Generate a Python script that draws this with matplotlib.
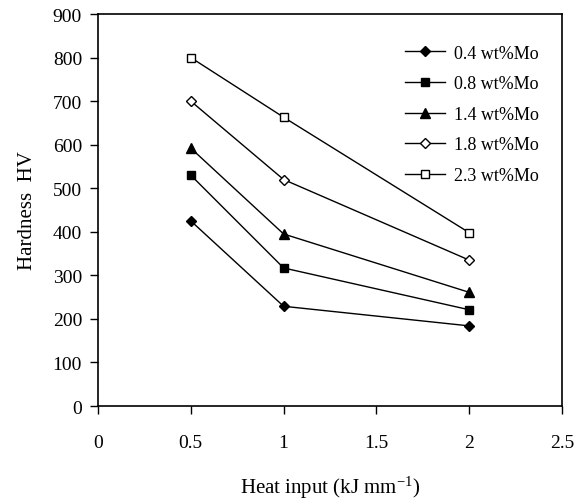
import matplotlib
matplotlib.use('Agg')
import matplotlib.pyplot as plt

plt.rcParams['font.family'] = 'Liberation Serif'
plt.rcParams['mathtext.default'] = 'regular'

heat_input = [0.5, 1, 2]
mo_04 = [425, 229, 184]
mo_08 = [530, 317, 221]
mo_14 = [592, 395, 261]
mo_18 = [700, 520, 335]
mo_23 = [800, 663, 398]

series = [
    ('0.4 wt%Mo', mo_04, 'D', 'black'),
    ('0.8 wt%Mo', mo_08, 's', 'black'),
    ('1.4 wt%Mo', mo_14, '^', 'black'),
    ('1.8 wt%Mo', mo_18, 'D', 'white'),
    ('2.3 wt%Mo', mo_23, 's', 'white'),
]

fig = plt.figure(figsize=(5.85, 5.02), dpi=100)
ax = fig.add_axes([0.1675, 0.1892, 0.7932, 0.7809])

for label, vals, marker, face in series:
    ms = 5 if marker == 'D' else 6
    if marker == '^':
        ms = 7
    ax.plot(heat_input, vals, color='black', lw=1, marker=marker, ms=ms,
            markerfacecolor=face, markeredgecolor='black', markeredgewidth=1,
            label=label)

ax.set_xlim(0, 2.5)
ax.set_ylim(0, 900)
ax.set_xticks([0, 0.5, 1, 1.5, 2, 2.5])
ax.set_xticklabels(['0', '0.5', '1', '1.5', '2', '2.5'])
ax.set_yticks(range(0, 901, 100))
ax.tick_params(labelsize=14, length=5.5, width=1, direction='out')
ax.tick_params(axis='y', pad=6)
ax.tick_params(axis='x', pad=15)
for s in ax.spines.values():
    s.set_linewidth(1.2)

ax.set_xlabel('Heat input (kJ mm$^{-1}$)', fontsize=15, labelpad=16)
ax.set_ylabel('Hardness  HV', fontsize=15, labelpad=11)

ax.legend(loc='upper right', bbox_to_anchor=(0.985, 0.963), frameon=False,
          fontsize=13, handlelength=2.2, handletextpad=0.5, labelspacing=0.75)

fig.savefig('out.png', dpi=100)
